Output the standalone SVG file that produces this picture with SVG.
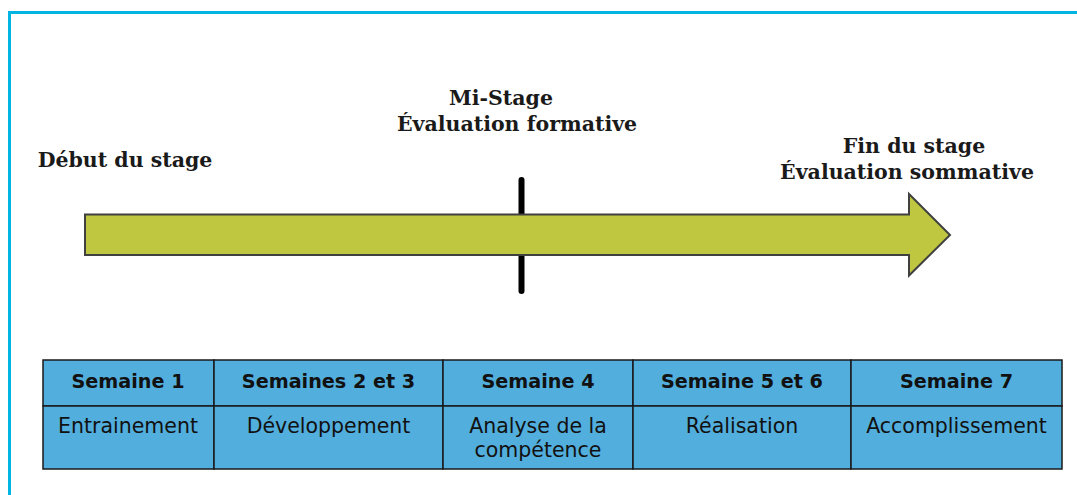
<svg xmlns="http://www.w3.org/2000/svg" width="1077" height="495" viewBox="0 0 1077 495">
<style>
.lbl{font-family:"DejaVu Serif","Liberation Serif",serif;font-weight:bold;font-size:20.5px;fill:#1a1a1a;text-anchor:middle}
.hd{font-family:"DejaVu Sans","Liberation Sans",sans-serif;font-weight:bold;font-size:19.2px;fill:#111;text-anchor:middle}
.bd{font-family:"DejaVu Sans","Liberation Sans",sans-serif;font-size:20.5px;fill:#111;text-anchor:middle}
.cell{fill:#52AEDC;stroke:#1a1a1a;stroke-width:1.5}
</style>
<rect x="0" y="0" width="1077" height="495" fill="#ffffff"/>
<path d="M9.5 500 V12.5 H1080" fill="none" stroke="#00B5E2" stroke-width="3"/>
<g id="mid-tick">
<line x1="521.5" y1="180" x2="521.5" y2="291" stroke="#000" stroke-width="6" stroke-linecap="round"/>
</g>
<g id="arrow">
<path d="M85 214.5 H909 V194 L950 235 L909 275.5 V255 H85 Z" fill="#BFC640" stroke="#404040" stroke-width="2"/>
</g>
<g id="label-debut"><text class="lbl" x="125" y="167">Début du stage</text></g>
<g id="label-mi">
<text class="lbl" x="501" y="105">Mi-Stage</text>
<text class="lbl" x="517" y="131">Évaluation formative</text>
</g>
<g id="label-fin">
<text class="lbl" x="914" y="153">Fin du stage</text>
<text class="lbl" x="907" y="179">Évaluation sommative</text>
</g>
<g id="table">
<g id="col1">
<rect class="cell" x="43" y="360" width="171" height="46"/>
<rect class="cell" x="43" y="406" width="171" height="63"/>
<text class="hd" x="128" y="388">Semaine 1</text>
<text class="bd" x="128" y="433">Entrainement</text>
</g>
<g id="col2">
<rect class="cell" x="214" y="360" width="229" height="46"/>
<rect class="cell" x="214" y="406" width="229" height="63"/>
<text class="hd" x="328.5" y="388">Semaines 2 et 3</text>
<text class="bd" x="328.5" y="433">Développement</text>
</g>
<g id="col3">
<rect class="cell" x="443" y="360" width="190" height="46"/>
<rect class="cell" x="443" y="406" width="190" height="63"/>
<text class="hd" x="538" y="388">Semaine 4</text>
<text class="bd" x="538" y="433">Analyse de la</text>
<text class="bd" x="538" y="457">compétence</text>
</g>
<g id="col4">
<rect class="cell" x="633" y="360" width="218" height="46"/>
<rect class="cell" x="633" y="406" width="218" height="63"/>
<text class="hd" x="742" y="388">Semaine 5 et 6</text>
<text class="bd" x="742" y="433">Réalisation</text>
</g>
<g id="col5">
<rect class="cell" x="851" y="360" width="211" height="46"/>
<rect class="cell" x="851" y="406" width="211" height="63"/>
<text class="hd" x="956.5" y="388">Semaine 7</text>
<text class="bd" x="956.5" y="433">Accomplissement</text>
</g>
</g>
</svg>
